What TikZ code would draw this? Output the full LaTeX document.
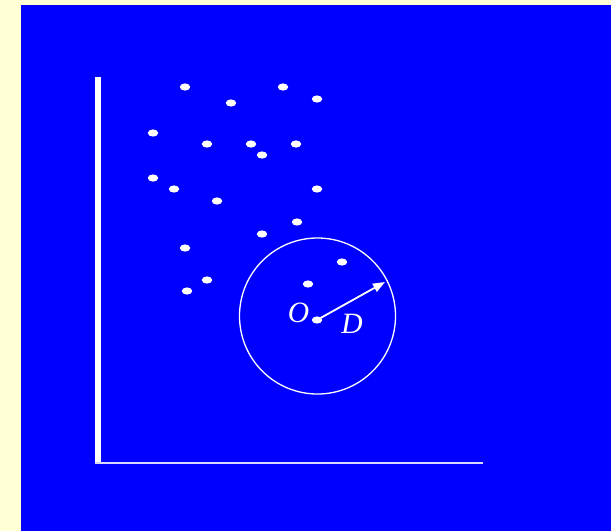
\documentclass[tikz,border=0pt]{standalone}
\usepackage{fontspec}
\setmainfont{Liberation Serif}
\usetikzlibrary{arrows.meta,calc,shapes.geometric}
\definecolor{bgyellow}{RGB}{255,255,214}
\definecolor{bgblue}{RGB}{0,0,255}
\begin{document}
\begin{tikzpicture}[x=1pt,y=-1pt,
  dot/.style={fill=white,draw=none,ellipse,minimum width=10.5pt,minimum height=7.2pt,inner sep=0pt},
  axis/.style={white,line cap=butt},
  lbl/.style={text=white,font=\fontsize{29.5}{31}\selectfont\itshape,inner sep=0pt}]
\useasboundingbox (0,0) rectangle (611,531);
\fill[bgyellow] (0,0) rectangle (611,531);
\fill[bgblue] (21,5) rectangle (611,531);
% axes
\coordinate (top) at (97.8,77);
\coordinate (origin) at (97.8,463);
\coordinate (right) at (483,463);
\draw[axis,line width=6.5pt] (top) -- ($(origin)+(0,1.2)$);
\draw[axis,line width=2.4pt,white!85!blue] ($(origin)+(-3.3,0)$) -- (right);
% dots
\foreach \n/\x/\y in {a/185/87,b/283/87,c/231/103,d/317/99,e/153/133,f/207/144,g/251/144,h/296/144,i/262/155,j/153/178,k/174/189,l/317/189,m/217/201,n/297/222,o/262/234,p/185/248,q/207/280,r/187/291,s/308/284,t/342/262}
  \node[dot] (\n) at (\x,\y) {};
% circle
\coordinate (C) at (317.5,316);
\draw[white,line width=1.3pt] (C) circle [radius=78];
% center dot O
\node[dot] (O) at (317,320) {};
\coordinate (tip) at (385,282);
\draw[white,line width=1.8pt,-{Triangle[length=12pt,width=9pt]}] (O.center) -- (tip);
\node[lbl] (Olbl) at (298.5,312.5) {O};
\node[lbl] (Dlbl) at (352,324) {D};
\end{tikzpicture}
\end{document}
